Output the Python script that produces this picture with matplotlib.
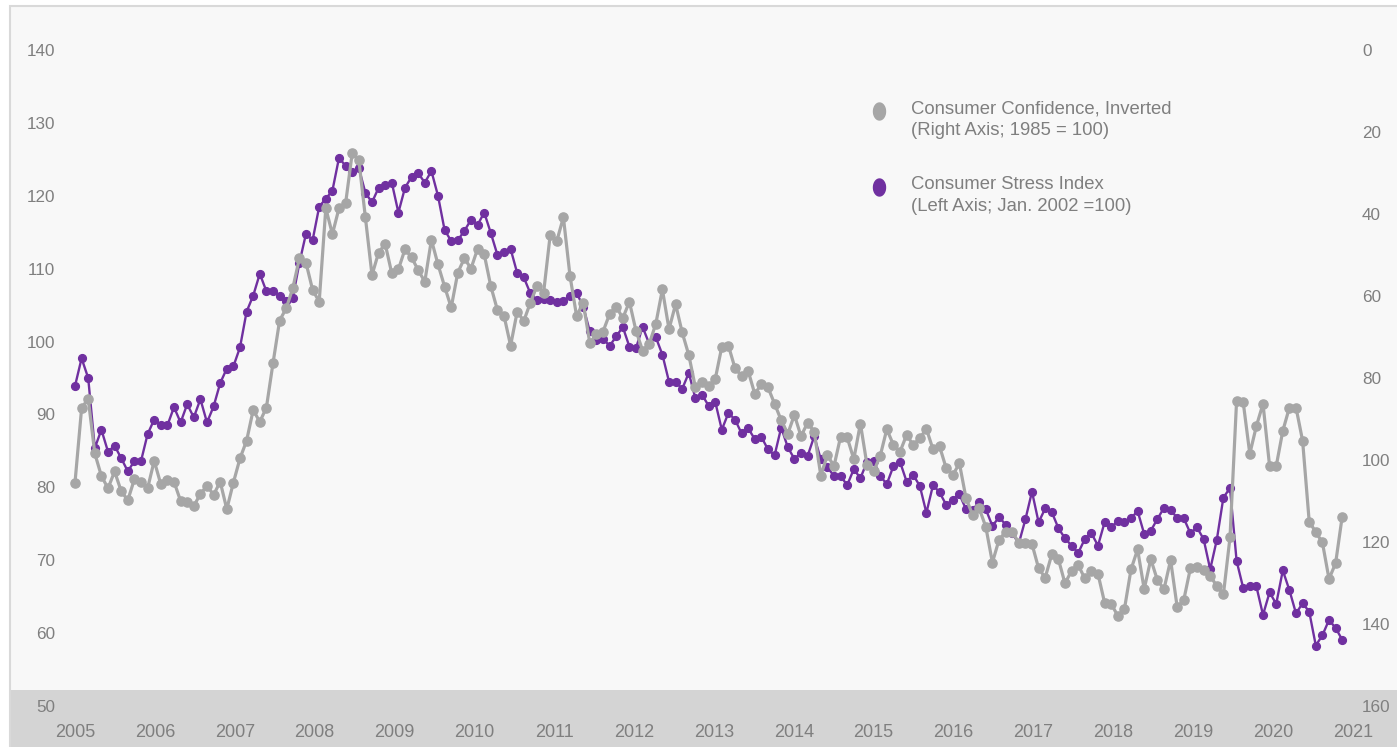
import numpy as np
import matplotlib
matplotlib.use("Agg")
import matplotlib.pyplot as plt
from matplotlib.lines import Line2D
from matplotlib.patches import Rectangle

plt.rcParams['font.family'] = ['Liberation Sans', 'DejaVu Sans']

years = [str(y) for y in range(2005, 2022)]

# monthly, Jan 2005 .. Jan 2021 (left axis)
stress = [
    93.9, 97.7, 95.0, 85.4, 87.9, 84.9, 85.7, 84.0, 82.2, 83.6, 83.6, 87.3,
    89.3, 88.6, 88.5, 91.0, 88.9, 91.4, 89.6, 92.1, 88.9, 91.1, 94.3, 96.3,
    96.6, 99.2, 104.1, 106.3, 109.3, 106.9, 107.0, 106.3, 105.6, 106.0, 110.8, 114.8,
    113.9, 118.5, 119.6, 120.7, 125.2, 124.1, 123.3, 123.8, 120.4, 119.1, 121.1, 121.5,
    121.8, 117.7, 121.1, 122.6, 123.1, 121.8, 123.4, 120.0, 115.3, 113.8, 113.9, 115.2,
    116.7, 116.0, 117.7, 114.9, 111.9, 112.3, 112.7, 109.4, 108.8, 106.6, 105.7, 105.8,
    105.7, 105.4, 105.6, 106.3, 106.7, 104.8, 101.4, 100.2, 100.4, 99.4, 100.7, 102.0,
    99.3, 99.1, 102.0, 99.7, 100.6, 98.2, 94.5, 94.5, 93.5, 95.7, 92.2, 92.7,
    91.2, 91.75, 87.9, 90.2, 89.3, 87.4, 88.1, 86.6, 86.9, 85.2, 84.4, 88.2,
    85.5, 83.9, 84.75, 84.3, 87.0, 83.85, 82.75, 81.55, 81.55, 80.3, 82.5, 81.25,
    83.5, 83.65, 81.55, 80.45, 82.9, 83.5, 80.8, 81.7, 80.2, 76.5, 80.3, 79.3,
    77.6, 78.3, 79.05, 77.0, 76.9, 78.0, 77.0, 74.7, 75.9, 74.9, 73.7, 72.3,
    75.6, 79.4, 75.2, 77.1, 76.6, 74.4, 73.0, 72.0, 71.0, 72.9, 73.7, 72.0,
    75.2, 74.5, 75.4, 75.2, 75.75, 76.75, 73.6, 74.05, 75.65, 77.2, 76.9, 75.8,
    75.75, 73.7, 74.5, 72.9, 68.75, 72.8, 78.6, 79.9, 69.9, 66.2, 66.4, 66.4,
    62.5, 65.6, 64.0, 68.6, 65.9, 62.7, 64.1, 62.95, 58.3, 59.7, 61.8, 60.7,
    59.1,
]

# consumer confidence, plotted on the inverted right axis
confidence = [
    105.5, 87.4, 85.0, 98.4, 103.9, 106.9, 102.8, 107.6, 109.8, 104.7, 105.3, 106.9,
    100.2, 105.9, 104.9, 105.3, 110.0, 110.2, 111.2, 108.3, 106.3, 108.5, 105.3, 112.0,
    105.5, 99.6, 95.3, 87.8, 90.7, 87.2, 76.4, 66.0, 63.0, 58.1, 50.8, 51.9,
    58.5, 61.4, 38.6, 44.9, 38.6, 37.4, 25.2, 26.8, 40.8, 54.9, 49.4, 47.3,
    54.5, 53.5, 48.6, 50.6, 53.7, 56.5, 46.3, 52.3, 57.7, 62.8, 54.3, 50.8,
    53.3, 48.5, 49.8, 57.6, 63.4, 64.8, 72.1, 63.8, 66.1, 61.6, 57.5, 59.2,
    45.1, 46.6, 40.8, 55.1, 64.9, 61.6, 71.5, 69.3, 68.7, 64.4, 62.6, 65.4,
    61.4, 68.5, 73.3, 71.7, 66.8, 58.4, 68.1, 62.0, 68.9, 74.4, 82.3, 80.9,
    82.0, 80.3, 72.4, 72.1, 77.6, 79.5, 78.3, 83.9, 81.5, 82.3, 86.3, 90.3,
    93.6, 89.0, 94.2, 90.9, 93.1, 103.8, 98.8, 101.5, 94.3, 94.5, 99.8, 91.1,
    101.2, 102.8, 99.0, 92.5, 96.3, 98.0, 93.9, 96.3, 94.7, 92.4, 97.4, 96.7,
    102.0, 103.7, 100.8, 109.3, 113.4, 111.8, 116.3, 125.0, 119.5, 117.5, 117.5, 120.2,
    120.3, 120.5, 126.4, 128.7, 123.0, 124.2, 130.1, 127.0, 125.6, 128.9, 127.0, 127.8,
    134.8, 135.1, 138.0, 136.4, 126.7, 121.8, 131.5, 124.2, 129.3, 131.5, 124.4, 135.9,
    134.1, 126.4, 126.0, 126.8, 128.3, 130.7, 132.8, 118.9, 85.5, 85.9, 98.5, 91.7,
    86.3, 101.5, 101.5, 92.9, 87.2, 87.2, 95.3, 115.0, 117.6, 120.1, 129.0, 125.2,
    113.8,
]

label_conf = "Consumer Confidence, Inverted\n(Right Axis; 1985 = 100)"
label_stress = "Consumer Stress Index\n(Left Axis; Jan. 2002 =100)"

PURPLE = '#7030a0'
GREY = '#a6a6a6'
TXT = '#7f7f7f'

W, H = 1397, 747
fig = plt.figure(figsize=(W / 100, H / 100), dpi=100)
fig.patch.set_facecolor('white')

# chart background, frame and the grey band behind the x labels
fig.add_artist(Rectangle((10 / W, 0), 1, (H - 6) / H, transform=fig.transFigure,
                         facecolor='#f8f8f8', edgecolor='#d9d9d9', lw=1.5, zorder=-3))
fig.add_artist(Rectangle((11 / W, 0), 1, (H - 690) / H, transform=fig.transFigure,
                         facecolor='#d4d4d4', edgecolor='none', zorder=-2))

ax = fig.add_axes([62 / W, (H - 706) / H, (1355 - 62) / W, (706 - 50) / H])
ax.patch.set_visible(False)
ax2 = ax.twinx()
ax2.patch.set_visible(False)

x = np.arange(len(stress))
ax.plot(x, stress, color=PURPLE, lw=1.7, marker='o', ms=5.6, zorder=3)
ax2.plot(x, confidence, color=GREY, lw=2.3, marker='o', ms=6.6, zorder=3)

px = 6.6  # pixels per month
ax.set_xlim(-13 / px, (1355 - 62 - 13) / px)
ax.set_ylim(50, 140)
ax2.set_ylim(160, 0)

# year labels in the source sit slightly wider than 12 months apart
ax.set_xticks(np.arange(len(years)) * 12.1)
ax.set_xticklabels(years)
ax.set_yticks(np.arange(50, 141, 10))
ax2.set_yticks(np.arange(0, 161, 20))

for a in (ax, ax2):
    for s in a.spines.values():
        s.set_visible(False)
ax.tick_params(axis='x', length=0, pad=13, labelsize=13, labelcolor=TXT)
ax.tick_params(axis='y', length=0, pad=5, labelsize=12.3, labelcolor=TXT)
ax2.tick_params(axis='y', length=0, pad=5, labelsize=12.3, labelcolor=TXT)

# legend marker: tall ellipse, lifted so it sits next to the first text line
t = np.linspace(0, 2 * np.pi, 40)
ellipse = list(zip(6 * np.cos(t), 8.5 * np.sin(t) + 9))
handles = [
    Line2D([], [], ls='none', marker=ellipse, ms=25.2, color=GREY, label=label_conf),
    Line2D([], [], ls='none', marker=ellipse, ms=25.2, color=PURPLE, label=label_stress),
]
leg = ax2.legend(handles=handles, loc='upper left', frameon=False,
                 bbox_to_anchor=(872 / W, 1 - 100 / H), bbox_transform=fig.transFigure,
                 borderpad=0, borderaxespad=0, handlelength=0.8, handletextpad=1.3,
                 labelspacing=2.0, prop={'size': 13.3})
for txt in leg.get_texts():
    txt.set_color(TXT)
    txt.set_linespacing(1.4)

fig.savefig('out.png', dpi=100)
